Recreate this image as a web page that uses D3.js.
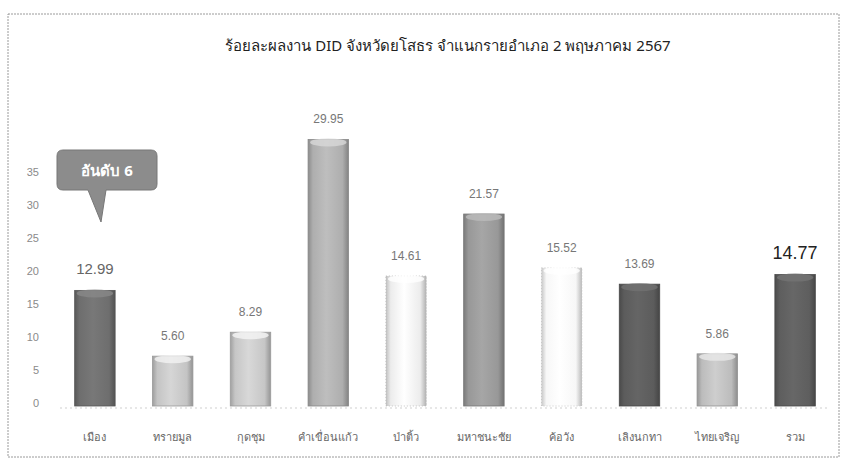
<!DOCTYPE html>
<html>
<head>
<meta charset="utf-8">
<script src="https://cdn.jsdelivr.net/npm/d3@7"></script>
<style>
  body { margin: 0; background: #fff; }
  svg { display: block; font-family: "Noto Sans", "DejaVu Sans", sans-serif; }
</style>
</head>
<body>
<div id="chart"></div>
<script>
// data
var districts = ["เมือง", "ทรายมูล", "กุดชุม", "คำเขื่อนแก้ว", "ป่าติ้ว",
                 "มหาชนะชัย", "ค้อวัง", "เลิงนกทา", "ไทยเจริญ", "รวม"];
var percent   = [12.99, 5.60, 8.29, 29.95, 14.61, 21.57, 15.52, 13.69, 5.86, 14.77];
var yTicks    = [0, 5, 10, 15, 20, 25, 30, 35];
var title     = "ร้อยละผลงาน DID จังหวัดยโสธร จำแนกรายอำเภอ 2 พฤษภาคม 2567";
var callout   = "อันดับ 6";

var shades = ["#6e6e6e", "#c4c4c4", "#c6c6c6", "#aeaeae", "#ececec",
              "#989898", "#f7f7f7", "#5c5c5c", "#bcbcbc", "#5e5e5e"];

var width = 846, height = 465;
var base = 406;

var svg = d3.select("#chart")
	.append("svg")
		.attr("width", width)
		.attr("height", height);

var defs = svg.append("defs");

// dotted frame of the scanned chart
svg.append("rect")
	.attr("x", 8).attr("y", 14)
	.attr("width", 831).attr("height", 443)
	.attr("fill", "none")
	.attr("stroke", "#9a9a9a")
	.attr("stroke-width", 1)
	.attr("stroke-dasharray", "2,1");

svg.append("text")
	.attr("x", 448).attr("y", 51)
	.attr("text-anchor", "middle")
	.attr("font-size", 15)
	.attr("fill", "#222")
	.text(title);

var x = d3.scaleBand()
	.domain(districts)
	.range([56, 834])
	.paddingInner(0.48)
	.paddingOuter(0.24);

// bars in the picture are taller than the printed axis suggests
var y = d3.scaleLinear().domain([0, 35]).range([base, base - 35 * 8.9]);
var yAxisScale = d3.scaleLinear().domain([0, 35]).range([403, 172]);

var axis = svg.append("g")
	.attr("transform", "translate(39,0)")
	.call(d3.axisLeft(yAxisScale).tickValues(yTicks).tickSize(0).tickPadding(0));
axis.select(".domain").remove();
axis.selectAll("text")
	.attr("font-size", 11)
	.attr("fill", "#8a8a8a")
	.attr("font-family", "Liberation Sans, Arial, sans-serif");

// cylinder-ish gradients
districts.forEach(function(d, i) {
	var c = d3.color(shades[i]);
	var g = defs.append("linearGradient")
		.attr("id", "g" + i)
		.attr("x1", "0%").attr("x2", "100%");
	g.append("stop").attr("offset", "0%").attr("stop-color", c.darker(0.6));
	g.append("stop").attr("offset", "12%").attr("stop-color", c);
	g.append("stop").attr("offset", "45%").attr("stop-color", c.brighter(0.25));
	g.append("stop").attr("offset", "85%").attr("stop-color", c);
	g.append("stop").attr("offset", "100%").attr("stop-color", c.darker(0.8));
});

var bars = svg.selectAll(".bar")
	.data(percent)
	.enter().append("g")
		.attr("class", "bar");

bars.append("rect")
	.attr("x", function(d, i) { return x(districts[i]); })
	.attr("y", function(d) { return y(d); })
	.attr("width", x.bandwidth())
	.attr("height", function(d) { return base - y(d); })
	.attr("fill", function(d, i) { return "url(#g" + i + ")"; })
	.attr("stroke", function(d, i) { return d3.color(shades[i]).darker(0.7); })
	.attr("stroke-width", 0.8)
	.attr("stroke-dasharray", function(d, i) { return shades[i] > "#e0e0e0" ? "1,2" : null; });

// light cap on top of each bar
bars.append("ellipse")
	.attr("cx", function(d, i) { return x(districts[i]) + x.bandwidth() / 2; })
	.attr("cy", function(d) { return y(d) + 3; })
	.attr("rx", x.bandwidth() / 2 - 2)
	.attr("ry", 4)
	.attr("fill", function(d, i) { return d3.color(shades[i]).brighter(0.6); })
	.attr("opacity", 0.8);

bars.append("text")
	.attr("x", function(d, i) { return x(districts[i]) + x.bandwidth() / 2; })
	.attr("y", function(d) { return y(d) - 16; })
	.attr("text-anchor", "middle")
	.attr("font-family", "Liberation Sans, Arial, sans-serif")
	.attr("font-size", function(d, i) { return i == 0 ? 15 : (i == districts.length - 1 ? 18 : 12); })
	.attr("fill", function(d, i) { return i == districts.length - 1 ? "#222" : (i == 0 ? "#666" : "#777"); })
	.text(function(d) { return d3.format(".2f")(d); });

// faint baseline
svg.append("line")
	.attr("x1", 60).attr("x2", 830)
	.attr("y1", base + 2).attr("y2", base + 2)
	.attr("stroke", "#cfcfcf")
	.attr("stroke-dasharray", "2,3");

svg.append("g")
	.selectAll("text")
	.data(districts)
	.enter().append("text")
		.attr("x", function(d) { return x(d) + x.bandwidth() / 2; })
		.attr("y", 441)
		.attr("text-anchor", "middle")
		.attr("font-size", 11)
		.attr("fill", "#666")
		.text(function(d) { return d; });

// rank callout
var co = svg.append("g");
co.append("path")
	.attr("d", "M63,150 H151 Q157,150 157,156 V184 Q157,190 151,190 H106 L101,222 L88,190 H63 Q57,190 57,184 V156 Q57,150 63,150 Z")
	.attr("fill", "#8c8c8c")
	.attr("stroke", "#777")
	.attr("stroke-width", 1);
co.append("text")
	.attr("x", 107).attr("y", 176)
	.attr("text-anchor", "middle")
	.attr("font-size", 15)
	.attr("font-weight", "bold")
	.attr("fill", "#fff")
	.text(callout);
</script>
</body>
</html>
